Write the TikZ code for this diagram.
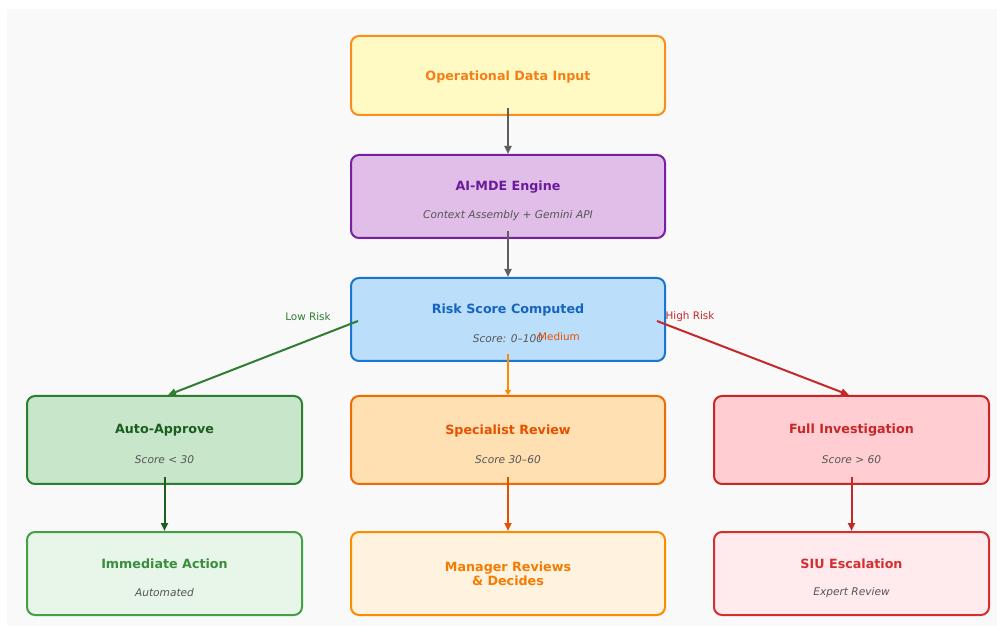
\documentclass[tikz,border=0pt]{standalone}
\usepackage{fontspec}
\setmainfont{DejaVu Sans}
\usetikzlibrary{arrows.meta}
\definecolor{bgc}{HTML}{F9F9F9}
\definecolor{opF}{HTML}{FFF9C4}\definecolor{opD}{HTML}{FB8C1E}\definecolor{opT}{HTML}{F57F17}
\definecolor{aiF}{HTML}{E1BEE7}\definecolor{aiD}{HTML}{7B1FA2}\definecolor{aiT}{HTML}{6A1B9A}
\definecolor{rkF}{HTML}{BBDEFB}\definecolor{rkD}{HTML}{1976D2}\definecolor{rkT}{HTML}{1565C0}
\definecolor{auF}{HTML}{C8E6C9}\definecolor{auD}{HTML}{2E7D32}\definecolor{auT}{HTML}{1B5E20}
\definecolor{spF}{HTML}{FFE0B2}\definecolor{spD}{HTML}{EF6C00}\definecolor{spT}{HTML}{E65100}
\definecolor{fuF}{HTML}{FFCDD2}\definecolor{fuD}{HTML}{C62828}\definecolor{fuT}{HTML}{C62828}
\definecolor{imF}{HTML}{E8F5E9}\definecolor{imD}{HTML}{43A047}\definecolor{imT}{HTML}{388E3C}
\definecolor{mgF}{HTML}{FFF3E0}\definecolor{mgD}{HTML}{FB8C00}\definecolor{mgT}{HTML}{F57C00}
\definecolor{siF}{HTML}{FFEBEE}\definecolor{siD}{HTML}{D32F2F}\definecolor{siT}{HTML}{D32F2F}
\definecolor{subc}{HTML}{555555}
\definecolor{arrg}{HTML}{5F5F5F}
\begin{document}
\begin{tikzpicture}[x=1pt,y=-1pt,
  box/.style={draw,line width=2pt,rounded corners=8pt,inner sep=0pt},
  wbox/.style={box,minimum width=314pt},
  nbox/.style={box,minimum width=275pt},
  ttl/.style={font=\bfseries\fontsize{12.7}{15}\selectfont,align=center,inner sep=0pt},
  sub/.style={font=\itshape\fontsize{10.6}{12}\selectfont,text=subc,inner sep=0pt},
  lbl/.style={font=\fontsize{10.4}{12}\selectfont,inner sep=0pt},
  arr/.style={line width=2pt,-{Triangle[length=8pt,width=7pt]}}]
\useasboundingbox (0,0) rectangle (997,628);
\fill[white] (0,0) rectangle (997,628);
\fill[bgc] (7,9) rectangle (997,626);
% boxes
\node[wbox,fill=opF,draw=opD,minimum height=79pt] (op) at (508,75.5) {};
\node[wbox,fill=aiF,draw=aiD,minimum height=83pt] (ai) at (508,196.5) {};
\node[wbox,fill=rkF,draw=rkD,minimum height=83pt] (rk) at (508,319.5) {};
\node[nbox,fill=auF,draw=auD,minimum height=88pt] (au) at (164.5,440) {};
\node[wbox,fill=spF,draw=spD,minimum height=88pt] (sp) at (508,440) {};
\node[nbox,fill=fuF,draw=fuD,minimum height=88pt] (fu) at (851.5,440) {};
\node[nbox,fill=imF,draw=imD,minimum height=83pt] (im) at (164.5,573.5) {};
\node[wbox,fill=mgF,draw=mgD,minimum height=83pt] (mg) at (508,573.5) {};
\node[nbox,fill=siF,draw=siD,minimum height=83pt] (si) at (851.5,573.5) {};
% texts
\node[ttl,text=opT] (opt) at (508,76.5) {Operational Data Input};
\node[ttl,text=aiT] (ait) at (508,187.5) {AI-MDE Engine};
\node[sub] (ais) at (508,216) {Context Assembly + Gemini API};
\node[ttl,text=rkT] (rkt) at (508,309.5) {Risk Score Computed};
\node[sub] (rks) at (508,339) {Score: 0--100};
\node[ttl,text=auT] (aut) at (164.5,430.5) {Auto-Approve};
\node[sub] (aus) at (164.5,460) {Score < 30};
\node[ttl,text=spT] (spt) at (508,430.5) {Specialist Review};
\node[sub] (sps) at (508,460) {Score 30--60};
\node[ttl,text=fuT] (fut) at (851.5,430.5) {Full Investigation};
\node[sub] (fus) at (851.5,460) {Score > 60};
\node[ttl,text=imT] (imt) at (164.5,563.5) {Immediate Action};
\node[sub] (ims) at (164.5,593) {Automated};
\node[ttl,text=mgT] (mgt) at (508,573.5) {Manager Reviews\\[-1pt]\& Decides};
\node[ttl,text=siT] (sit) at (851.5,563.5) {SIU Escalation};
\node[sub] (sis) at (851.5,593) {Expert Review};
% arrow coordinates
\coordinate (a1) at (508,108);
\coordinate (a2) at (508,231);
\coordinate (lo) at (358,321);
\coordinate (hi) at (657,321);
\coordinate (me) at (508,354);
\coordinate (c1) at (164.5,477);
\coordinate (c2) at (508,477);
\coordinate (c3) at (851.5,477);
\draw[arr,arrg] (a1) -- (ai.north);
\draw[arr,arrg] (a2) -- (rk.north);
\draw[arr,auD] (lo) -- (au.north -| 168,0);
\draw[arr,fuD] (hi) -- (fu.north -| 849,0);
\draw[arr,mgD,-{Triangle[length=5pt,width=6pt]}] (me) -- (sp.north);
\draw[arr,auT] (c1) -- (im.north);
\draw[arr,spT] (c2) -- (mg.north);
\draw[arr,fuT] (c3) -- (si.north);
% labels
\node[lbl,text=auD] (llo) at (308,317) {Low Risk};
\node[lbl,text=fuD] (lhi) at (690,317) {High Risk};
\node[lbl,text=spT] (lme) at (559,336.5) {Medium};
\end{tikzpicture}
\end{document}
